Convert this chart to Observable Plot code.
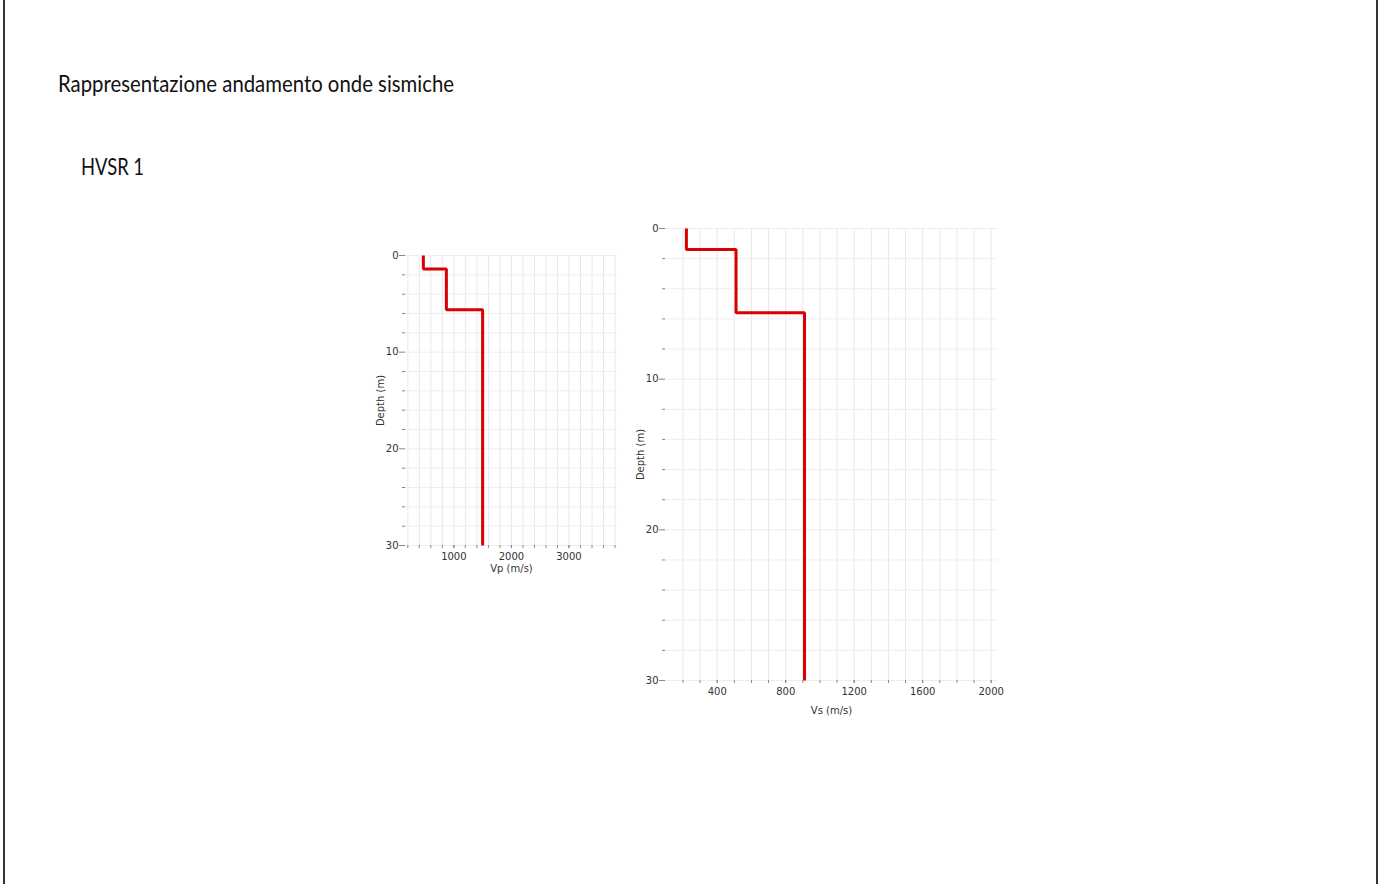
<!DOCTYPE html>
<html>
<head>
<meta charset="utf-8">
<script src="https://cdn.jsdelivr.net/npm/d3@7"></script>
<script src="https://cdn.jsdelivr.net/npm/@observablehq/plot@0.6"></script>
<style>
  html, body { margin: 0; padding: 0; background: #fff; }
  #page { position: relative; width: 1379px; height: 884px; overflow: hidden; background: #fff; }
  .border { position: absolute; top: 0; width: 2px; height: 884px; background: #333; }
  .chart { position: absolute; }
  #header { position: absolute; left: 0; top: 0; }
</style>
</head>
<body>
<div id="page">
  <div class="border" style="left:3px"></div>
  <div class="border" style="left:1376px"></div>
  <svg id="header" width="700" height="200">
    <text x="58" y="92" font-family="Lato, 'Open Sans', sans-serif" font-size="23" fill="#111" textLength="396" lengthAdjust="spacingAndGlyphs">Rappresentazione andamento onde sismiche</text>
    <text x="81" y="175" font-family="Lato, 'Open Sans', sans-serif" font-size="23" fill="#111" textLength="63" lengthAdjust="spacingAndGlyphs">HVSR 1</text>
  </svg>
  <div id="vp" class="chart" style="left:360px; top:245px"></div>
  <div id="vs" class="chart" style="left:620px; top:218px"></div>
</div>
<script>
// Layer data (depth in m, velocities in m/s)
const layerTop = [0, 1.4, 5.6];
const layerBottom = [1.4, 5.6, 30];
const vpValues = [470, 870, 1500];
const vsValues = [220, 510, 910];

// Axis ticks
const depthMajor = [0, 10, 20, 30];
const depthMinor = [2, 4, 6, 8, 12, 14, 16, 18, 22, 24, 26, 28];
const depthGrid = [0, 2, 4, 6, 8, 10, 12, 14, 16, 18, 20, 22, 24, 26, 28, 30];
const vpMajor = [1000, 2000, 3000];
const vpMinor = [200, 400, 600, 800, 1000, 1200, 1400, 1600, 1800, 2000, 2200, 2400, 2600, 2800, 3000, 3200, 3400, 3600, 3800];
const vsMajor = [400, 800, 1200, 1600, 2000];
const vsMinor = [200, 300, 400, 500, 600, 700, 800, 900, 1000, 1100, 1200, 1300, 1400, 1500, 1600, 1700, 1800, 1900, 2000];

function profile(vel) {
  const pts = [];
  vel.forEach((v, i) => {
    pts.push({v, d: layerTop[i]});
    pts.push({v, d: layerBottom[i]});
  });
  return pts;
}

function chart({vel, xDomain, xMajor, xMinor, xLabel, width, height, xLabelDy, yLabelDx}) {
  const ml = 45, mt = 10, mr = 15, mb = 45;
  return Plot.plot({
    width, height,
    marginLeft: ml, marginTop: mt, marginRight: mr, marginBottom: mb,
    style: {fontFamily: "'DejaVu Sans', sans-serif", fontSize: "10px", color: "#333", background: "transparent"},
    x: {domain: xDomain},
    y: {domain: [0, 30], reverse: true},
    marks: [
      Plot.gridX(xMinor, {stroke: "#e8e8e8", strokeOpacity: 1}),
      Plot.gridY(depthGrid, {stroke: "#eeeeee", strokeOpacity: 1}),
      Plot.axisX(xMinor, {tickSize: 3, tickFormat: () => "", label: null, stroke: "#888"}),
      Plot.axisX(xMajor, {tickSize: 3, tickPadding: 4, tickFormat: d => String(d), label: null, stroke: "#888", fill: "#333"}),
      Plot.axisY(depthMinor, {tickSize: 3, tickFormat: () => "", label: null, stroke: "#888"}),
      Plot.axisY(depthMajor, {tickSize: 6, tickPadding: 1, tickFormat: d => String(d), label: null, stroke: "#888", fill: "#333"}),
      Plot.line(profile(vel), {x: "v", y: "d", stroke: "#d80000", strokeWidth: 3, strokeLinejoin: "miter", strokeLinecap: "butt"}),
      Plot.text([xLabel], {frameAnchor: "bottom", dy: xLabelDy, lineAnchor: "middle", textAnchor: "middle", fill: "#333", fontSize: 10}),
      Plot.text(["Depth (m)"], {frameAnchor: "left", dx: yLabelDx, rotate: -90, lineAnchor: "middle", textAnchor: "middle", fill: "#333", fontSize: 10})
    ]
  });
}

document.getElementById("vp").append(chart({
  vel: vpValues, xDomain: [160, 3843], xMajor: vpMajor, xMinor: vpMinor,
  xLabel: "Vp (m/s)", width: 272, height: 345, xLabelDy: 23, yLabelDx: -25
}));
document.getElementById("vs").append(chart({
  vel: vsValues, xDomain: [98, 2037], xMajor: vsMajor, xMinor: vsMinor,
  xLabel: "Vs (m/s)", width: 392, height: 507, xLabelDy: 30, yLabelDx: -25
}));
</script>
</body>
</html>
